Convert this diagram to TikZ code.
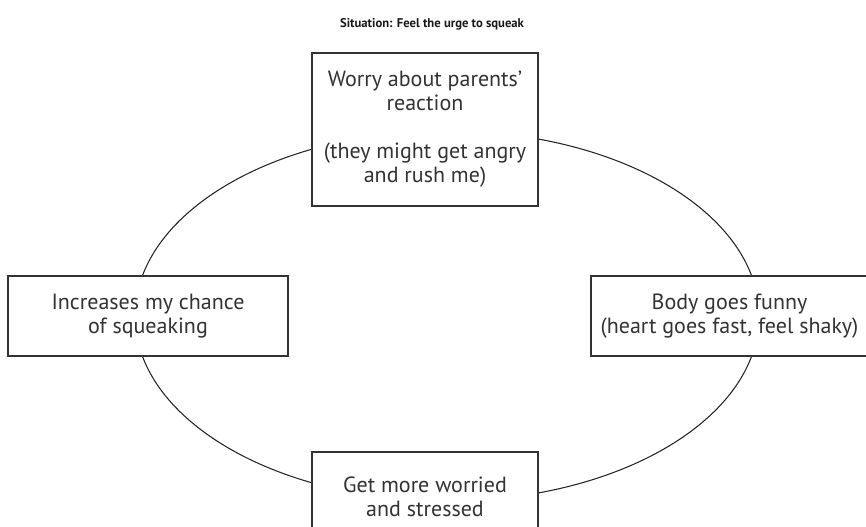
\documentclass[tikz,border=0pt]{standalone}
\usepackage{fontspec}
\setmainfont{PT Sans}
\begin{document}
\begin{tikzpicture}[x=0.75pt,y=-0.75pt,
  txt/.style={text=black!80, align=center, font=\fontsize{16.5}{18}\selectfont},
  stagebox/.style={txt, draw=black!80, line width=1pt, fill=white, inner sep=0pt},
  loop/.style={draw=black!85, line width=0.8pt}]
\useasboundingbox (0,0) rectangle (866,527);
\clip (0,0) rectangle (866,527);
% title
\node[font=\bfseries\fontsize{9.5}{12}\selectfont, text=black!90, anchor=base] (title) at (432,28) {Situation: Feel the urge to squeak};
% the cycle behind the boxes
\draw[loop] (447,316) ellipse [x radius=312, y radius=185];
% stages of the cycle
\node[stagebox, minimum width=226*0.75pt, minimum height=153*0.75pt] (worry) at (425,129.5)
  {Worry about parents'\\reaction\\[18pt](they might get angry\\and rush me)};
\node[stagebox, minimum width=280*0.75pt, minimum height=80*0.75pt] (chance) at (148,316)
  {Increases my chance\\of squeaking};
\node[stagebox, minimum width=277*0.75pt, minimum height=80*0.75pt] (body) at (729.5,316)
  {Body goes funny\\(heart goes fast, feel shaky)};
\node[stagebox, minimum width=226*0.75pt, minimum height=90*0.75pt] (stress) at (425,497)
  {Get more worried\\and stressed};
\end{tikzpicture}
\end{document}
